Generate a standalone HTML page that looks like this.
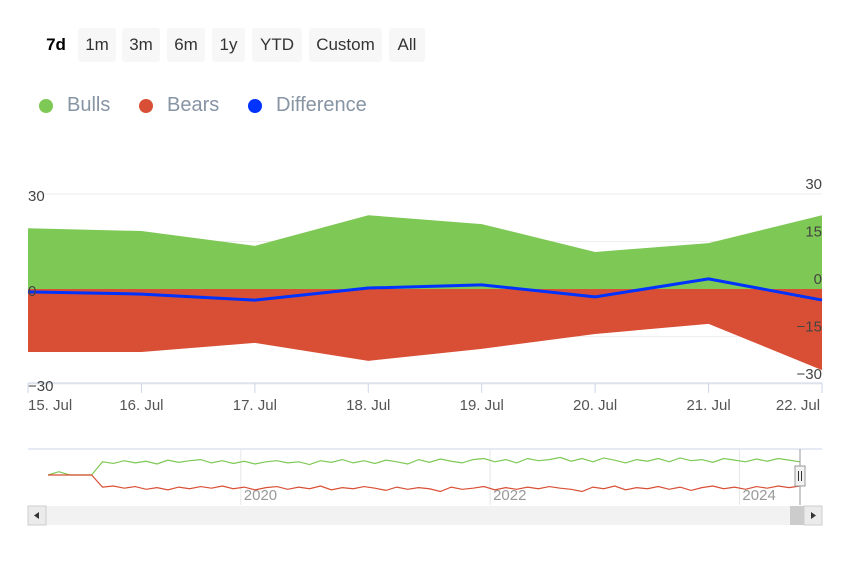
<!DOCTYPE html>
<html><head><meta charset="utf-8"><style>
body{margin:0;width:850px;height:567px;background:#fff;font-family:"Liberation Sans",sans-serif;overflow:hidden;position:relative}
.btn{position:absolute;top:28px;height:34px;background:#f7f7f7;border-radius:3px;font-size:17px;color:#333;display:flex;align-items:center;justify-content:center}
.leg{position:absolute;top:94px;font-size:20px;color:#8794a3;display:flex;align-items:center}
.dot{width:14px;height:14px;border-radius:50%;margin-right:14px}
</style></head><body>
<div class="btn" style="left:40px;width:32px;background:none;font-weight:bold;color:#000">7d</div>
<div class="btn" style="left:78px;width:38px">1m</div>
<div class="btn" style="left:122px;width:38px">3m</div>
<div class="btn" style="left:167px;width:38px">6m</div>
<div class="btn" style="left:212px;width:33px">1y</div>
<div class="btn" style="left:252px;width:50px">YTD</div>
<div class="btn" style="left:309px;width:73px">Custom</div>
<div class="btn" style="left:389px;width:36px">All</div>
<div class="leg" style="left:39px"><span class="dot" style="background:#7ec855"></span>Bulls</div>
<div class="leg" style="left:139px"><span class="dot" style="background:#d94f35"></span>Bears</div>
<div class="leg" style="left:248px"><span class="dot" style="background:#0033ff"></span>Difference</div>
<svg id="chart" width="850" height="567" style="position:absolute;left:0;top:0" font-family="Liberation Sans, sans-serif"></svg>
<script>
const categories=["15. Jul","16. Jul","17. Jul","18. Jul","19. Jul","20. Jul","21. Jul","22. Jul"];
const bulls=[19.2,18.3,13.6,23.3,20.5,11.7,14.5,23.3];
const bears=[-19.9,-19.9,-17,-22.7,-18.9,-14.2,-11,-25.6];
const difference=[-0.9,-1.6,-3.5,0.3,1.3,-2.5,3.2,-3.5];
const leftTicks=[30,0,-30];
const rightTicks=[30,15,0,-15,-30];
const navBulls=[0,6,0,0,0,24,21,26,22,25,20,27,23,26,28,22,26,21,25,20,24,26,22,24,19,26,23,28,22,26,21,27,24,20,28,23,29,25,22,28,30,24,28,22,30,26,28,32,25,30,24,31,27,22,28,25,30,24,31,26,28,23,30,27,24,29,25,30,27,24];
const navBears=[0,0,0,0,0,-22,-20,-24,-21,-26,-23,-27,-22,-25,-21,-24,-20,-25,-22,-27,-23,-21,-26,-22,-25,-20,-27,-23,-25,-21,-24,-28,-22,-26,-23,-25,-30,-22,-26,-24,-21,-27,-23,-26,-22,-25,-21,-24,-26,-30,-22,-25,-20,-27,-23,-25,-21,-26,-22,-28,-23,-20,-25,-22,-26,-21,-24,-20,-23,-20];
const navYears=["2020","2022","2024"];
const navYearPos=[0.268,0.582,0.896];
const S=document.getElementById('chart'),NS='http://www.w3.org/2000/svg';
function mk(t,a,p){const e=document.createElementNS(NS,t);for(const k in a)e.setAttribute(k,a[k]);(p||S).appendChild(e);return e;}
const x=i=>28+i*(822-28)/(categories.length-1);
const y=v=>289-v*95/30;
rightTicks.forEach(v=>{const g=mk('line',{x1:28,x2:822,y1:y(v),y2:y(v),stroke:'#eeeeee'});

});
let d='M'+x(0)+','+y(0);bulls.forEach((v,i)=>d+='L'+x(i)+','+y(v));d+='L'+x(bulls.length-1)+','+y(0)+'Z';
let a=mk('path',{d:d,fill:'#7ec855'});


d='M'+x(0)+','+y(0);bears.forEach((v,i)=>d+='L'+x(i)+','+y(v));d+='L'+x(bears.length-1)+','+y(0)+'Z';
a=mk('path',{d:d,fill:'#d94f35'});


d='';difference.forEach((v,i)=>d+=(i?'L':'M')+x(i)+','+y(v));
a=mk('path',{d:d,fill:'none',stroke:'#0033ff','stroke-width':3,'stroke-linejoin':'round'});


mk('line',{x1:28,x2:822,y1:383,y2:383,stroke:'#ccd6eb'});
categories.forEach((c,i)=>{mk('line',{x1:x(i),x2:x(i),y1:383,y2:393,stroke:'#ccd6eb'});
const t=mk('text',{x:x(i)-(i==categories.length-1?24:0),y:410,'font-size':15,fill:'#555','text-anchor':i==0?'start':'middle'});t.textContent=c;

});
leftTicks.forEach(v=>{const t=mk('text',{x:28,y:y(v)+7,'font-size':15,fill:'#444'});t.textContent=v==-30?'−30':v;

});
rightTicks.forEach(v=>{const t=mk('text',{x:822,y:y(v)-5,'font-size':15,fill:'#444','text-anchor':'end'});t.textContent=v<0?'−'+(-v):v;

});
mk('line',{x1:28,x2:822,y1:449,y2:449,stroke:'#ccd6eb'});
navYears.forEach((yr,i)=>{const px=28+navYearPos[i]*794;mk('line',{x1:px,x2:px,y1:449,y2:505,stroke:'#e6e6e6'});
const t=mk('text',{x:px+3,y:500,'font-size':15,fill:'#999'});t.textContent=yr;

});
const nx=i=>48+i*(800-48)/(navBulls.length-1), ny=v=>475-v*0.55;
d='';navBulls.forEach((v,i)=>d+=(i?'L':'M')+nx(i)+','+ny(v));
a=mk('path',{d:d,fill:'none',stroke:'#7ec855','stroke-width':1.2});


d='';navBears.forEach((v,i)=>d+=(i?'L':'M')+nx(i)+','+ny(v));
a=mk('path',{d:d,fill:'none',stroke:'#d94f35','stroke-width':1.2});


mk('line',{x1:800,x2:800,y1:449,y2:505,stroke:'#999'});
a=mk('rect',{x:795,y:466,width:10,height:20,fill:'#f2f2f2',stroke:'#999'});


mk('line',{x1:798.5,x2:798.5,y1:471,y2:481,stroke:'#333'});mk('line',{x1:801.5,x2:801.5,y1:471,y2:481,stroke:'#333'});
a=mk('rect',{x:28,y:506,width:794,height:19,fill:'#f2f2f2'});


mk('rect',{x:28,y:506,width:18,height:19,fill:'#ebebeb',stroke:'#ccc'});
mk('path',{d:'M39,512 L34,515.5 L39,519 Z',fill:'#333'});
a=mk('rect',{x:790,y:506,width:14,height:19,fill:'#cccccc'});


mk('rect',{x:804,y:506,width:18,height:19,fill:'#ebebeb',stroke:'#ccc'});
mk('path',{d:'M811,512 L816,515.5 L811,519 Z',fill:'#333'});
</script>
</body></html>
